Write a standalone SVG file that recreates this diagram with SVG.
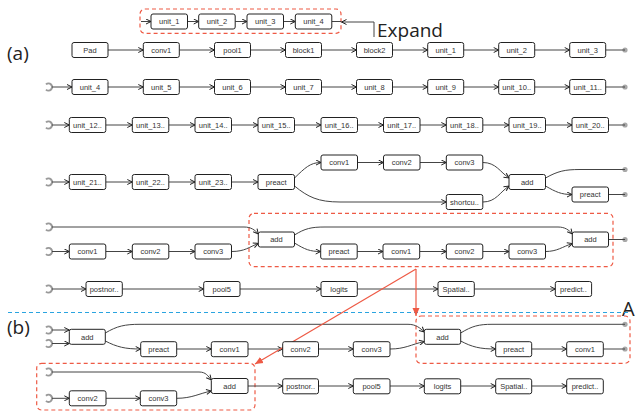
<svg xmlns="http://www.w3.org/2000/svg" xmlns:xlink="http://www.w3.org/1999/xlink" width="636" height="416" viewBox="0 0 636 416">
<style>
.n rect{fill:#fff;stroke:#222;stroke-width:1}
.n text{font-family:"Liberation Sans",Arial,sans-serif;font-size:7.5px;fill:#333;text-anchor:middle}
.e path{fill:none;stroke:#444;stroke-width:1;marker-end:url(#ah)}
.e path.nm{marker-end:none}
.hk{fill:none;stroke:#999;stroke-width:2}
.dot{fill:#a8a8a8}
.dash{fill:none;stroke:#ee5a45;stroke-width:1.2;stroke-dasharray:4,3}
.lbl{font-family:"Open Sans","DejaVu Sans",sans-serif;fill:#222}
.red{fill:none;stroke:#ee5a45;stroke-width:1.2;marker-end:url(#rh)}
</style>
<defs>
<marker id="ah" viewBox="0 0 6 6" refX="5.5" refY="3" markerWidth="6" markerHeight="6" markerUnits="userSpaceOnUse" orient="auto"><path d="M0.5,0.5 L5.5,3 L0.5,5.5" fill="none" stroke="#222" stroke-width="1"/></marker>
<marker id="rh" viewBox="0 0 8 8" refX="8" refY="4" markerWidth="8" markerHeight="8" markerUnits="userSpaceOnUse" orient="auto"><path d="M0,0.5 L8,4 L0,7.5 Z" fill="#ee5a45"/></marker>
<path id="hook" class="hk" d="M-2.5,-2.6 A3.6,3.6 0 1 1 -2.5,2.6"/>
</defs>

<!-- labels -->
<text class="lbl" x="7" y="60" font-size="19">(a)</text>
<text class="lbl" x="7" y="334" font-size="19">(b)</text>
<text class="lbl" x="377" y="37" font-size="19">Expand</text>
<text class="lbl" x="622" y="316" font-size="20">A</text>

<!-- dashed frames -->
<rect class="dash" x="140" y="9" width="201" height="24.3" rx="5"/>
<rect class="dash" x="249" y="213.3" width="364" height="53.4" rx="5"/>
<rect class="dash" x="416" y="316" width="214" height="47.3" rx="5"/>
<rect class="dash" x="36.7" y="363.3" width="218.3" height="46.7" rx="5"/>
<line x1="8" y1="312.5" x2="630" y2="312.5" stroke="#2aa4e0" stroke-width="1.2" stroke-dasharray="4,3"/>

<!-- hooks and end dots -->
<g id="terminals">
<use xlink:href="#hook" x="48.5" y="87"/>
<use xlink:href="#hook" x="48.5" y="125"/>
<use xlink:href="#hook" x="48.5" y="182"/>
<use xlink:href="#hook" x="48.5" y="227"/>
<use xlink:href="#hook" x="48.5" y="251.5"/>
<use xlink:href="#hook" x="48.5" y="289"/>
<use xlink:href="#hook" x="48.5" y="330"/>
<use xlink:href="#hook" x="48.5" y="343.5"/>
<use xlink:href="#hook" x="48.5" y="372"/>
<use xlink:href="#hook" x="48.5" y="398.3"/>
<circle class="dot" cx="625" cy="50" r="2.6"/>
<circle class="dot" cx="625" cy="87" r="2.6"/>
<circle class="dot" cx="625" cy="125" r="2.6"/>
<circle class="dot" cx="625" cy="169.5" r="2.6"/>
<circle class="dot" cx="625" cy="194.5" r="2.6"/>
<circle class="dot" cx="625" cy="239.5" r="2.6"/>
<circle class="dot" cx="625" cy="324.3" r="2.6"/>
<circle class="dot" cx="625" cy="349" r="2.6"/>
</g>

<!-- connectors -->
<g class="e" id="connectors">
<!-- expand row -->
<path d="M141,21.5 H151"/>
<path d="M187.5,21.5 H198.7"/>
<path d="M235.2,21.5 H247"/>
<path d="M283.5,21.5 H295.3"/>
<path class="nm" d="M331.8,21.5 H341"/>
<path d="M374,37 V22 H341.5"/>
<!-- row 1 -->
<path d="M108,50 H143.3"/>
<path d="M179.3,50 H214.5"/>
<path d="M250.5,50 H285.5"/>
<path d="M321.5,50 H356.5"/>
<path d="M392.5,50 H427.7"/>
<path d="M463.7,50 H498.7"/>
<path d="M534.7,50 H569.7"/>
<path class="nm" d="M605.7,50 H625"/>
<!-- row 2 -->
<path d="M52,87 H72"/>
<path d="M108,87 H143.3"/>
<path d="M179.3,87 H214.5"/>
<path d="M250.5,87 H285.5"/>
<path d="M321.5,87 H356.5"/>
<path d="M392.5,87 H427.7"/>
<path d="M463.7,87 H498.7"/>
<path d="M534.7,87 H569.7"/>
<path class="nm" d="M605.7,87 H625"/>
<!-- row 3 -->
<path d="M52,125 H69.3"/>
<path d="M105.8,125 H132.3"/>
<path d="M168.8,125 H195"/>
<path d="M231.5,125 H258"/>
<path d="M294.5,125 H321"/>
<path d="M357.5,125 H383.5"/>
<path d="M420,125 H446.3"/>
<path d="M482.8,125 H509"/>
<path d="M545.5,125 H572"/>
<path class="nm" d="M608.5,125 H625"/>
<!-- row 4 -->
<path d="M52,182 H69.3"/>
<path d="M105.8,182 H132.3"/>
<path d="M168.8,182 H195"/>
<path d="M231.5,182 H258"/>
<path d="M294.5,178 C305,168 310,162.5 321,162.5"/>
<path d="M294.5,186 C308,197 318,202 340,202 H446.3"/>
<path d="M357.5,162.5 H383.5"/>
<path d="M420,162.5 H446.3"/>
<path d="M482.8,162.5 C496,162.5 500,172 509,178"/>
<path d="M482.8,202 C496,202 500,192 509,186"/>
<path class="nm" d="M545.5,178 C558,171 565,169.5 580,169.5 H625"/>
<path d="M545.5,186 C556,192 561,194.5 572,194.5"/>
<path class="nm" d="M608.5,194.5 H625"/>
<!-- row 5 -->
<path d="M52,227 H244 C251,227 255,230 258.3,234"/>
<path d="M52,251.5 H69.3"/>
<path d="M105.8,251.5 H132.3"/>
<path d="M168.8,251.5 H195"/>
<path d="M231.5,251.5 C245,251.5 249,247 258.3,243.5"/>
<path d="M294.5,235 C305,228.5 311,227 325,227 H558 C565,227 569,230 572.3,234"/>
<path d="M294.5,243 C305,249.5 310,251.5 320.7,251.5"/>
<path d="M357.2,251.5 H383"/>
<path d="M419.7,251.5 H446.3"/>
<path d="M482.8,251.5 H509"/>
<path d="M545.5,251.5 C557,251.5 562,247 572.3,243.5"/>
<path class="nm" d="M608.5,239.5 H625"/>
<!-- row 6 -->
<path d="M52,289 H86"/>
<path d="M122.3,289 H203.7"/>
<path d="M240,289 H321"/>
<path d="M357.3,289 H438"/>
<path d="M474.3,289 H555.3"/>
<!-- (b) row 1 -->
<path d="M52,330 H69.3"/>
<path d="M52,343.5 H69.3"/>
<path d="M105.3,333 C117,326 125,324.3 140,324.3 H408 C416,324.3 420,328 424.3,332"/>
<path d="M105.3,341 C117,347 125,349 140.7,349"/>
<path d="M176.7,349 H211.3"/>
<path d="M248,349 H282.7"/>
<path d="M318.5,349 H353.3"/>
<path d="M390,349 C405,349 411,344.5 424.3,341.5"/>
<path class="nm" d="M460.7,333 C472,326 479,324.3 492,324.3 H625"/>
<path d="M460.7,341 C472,347 480,349 495.7,349"/>
<path d="M531.7,349 H566.7"/>
<path class="nm" d="M603.3,349 H625"/>
<!-- (b) row 2 -->
<path d="M52,372 H199 C206,372 208,376 211.3,380"/>
<path d="M52,398.3 H69.3"/>
<path d="M106,398.3 H140.3"/>
<path d="M176.7,398.3 C192,398.3 199,393.5 211.3,391"/>
<path d="M248,386 H282.7"/>
<path d="M318.5,386 H353.3"/>
<path d="M390,386 H424.3"/>
<path d="M460.7,386 H495.7"/>
<path d="M531.7,386 H566.7"/>
</g>

<!-- red mapping arrows -->
<path class="red" d="M416,269 V316"/>
<path class="red" d="M416,269 L255,364"/>

<!-- expand row nodes -->
<g id="e_unit_1" class="n"><rect x="151" y="14" width="36.5" height="15" rx="2"/><text x="169.2" y="24.2">unit_1</text></g>
<g id="e_unit_2" class="n"><rect x="198.7" y="14" width="36.5" height="15" rx="2"/><text x="217" y="24.2">unit_2</text></g>
<g id="e_unit_3" class="n"><rect x="247" y="14" width="36.5" height="15" rx="2"/><text x="265.2" y="24.2">unit_3</text></g>
<g id="e_unit_4" class="n"><rect x="295.3" y="14" width="36.5" height="15" rx="2"/><text x="313.5" y="24.2">unit_4</text></g>

<!-- row 1 -->
<g id="a_pad" class="n"><rect x="72" y="42.5" width="36" height="15" rx="2"/><text x="90" y="52.7">Pad</text></g>
<g id="a_conv1" class="n"><rect x="143.3" y="42.5" width="36" height="15" rx="2"/><text x="161.3" y="52.7">conv1</text></g>
<g id="a_pool1" class="n"><rect x="214.5" y="42.5" width="36" height="15" rx="2"/><text x="232.5" y="52.7">pool1</text></g>
<g id="a_block1" class="n"><rect x="285.5" y="42.5" width="36" height="15" rx="2"/><text x="303.5" y="52.7">block1</text></g>
<g id="a_block2" class="n"><rect x="356.5" y="42.5" width="36" height="15" rx="2"/><text x="374.5" y="52.7">block2</text></g>
<g id="a_unit_1" class="n"><rect x="427.7" y="42.5" width="36" height="15" rx="2"/><text x="445.7" y="52.7">unit_1</text></g>
<g id="a_unit_2" class="n"><rect x="498.7" y="42.5" width="36" height="15" rx="2"/><text x="516.7" y="52.7">unit_2</text></g>
<g id="a_unit_3" class="n"><rect x="569.7" y="42.5" width="36" height="15" rx="2"/><text x="587.7" y="52.7">unit_3</text></g>

<!-- row 2 -->
<g id="a_unit_4" class="n"><rect x="72" y="79.5" width="36" height="15" rx="2"/><text x="90" y="89.7">unit_4</text></g>
<g id="a_unit_5" class="n"><rect x="143.3" y="79.5" width="36" height="15" rx="2"/><text x="161.3" y="89.7">unit_5</text></g>
<g id="a_unit_6" class="n"><rect x="214.5" y="79.5" width="36" height="15" rx="2"/><text x="232.5" y="89.7">unit_6</text></g>
<g id="a_unit_7" class="n"><rect x="285.5" y="79.5" width="36" height="15" rx="2"/><text x="303.5" y="89.7">unit_7</text></g>
<g id="a_unit_8" class="n"><rect x="356.5" y="79.5" width="36" height="15" rx="2"/><text x="374.5" y="89.7">unit_8</text></g>
<g id="a_unit_9" class="n"><rect x="427.7" y="79.5" width="36" height="15" rx="2"/><text x="445.7" y="89.7">unit_9</text></g>
<g id="a_unit_10" class="n"><rect x="498.7" y="79.5" width="36" height="15" rx="2"/><text x="516.7" y="89.7">unit_10..</text></g>
<g id="a_unit_11" class="n"><rect x="569.7" y="79.5" width="36" height="15" rx="2"/><text x="587.7" y="89.7">unit_11..</text></g>

<!-- row 3 -->
<g id="a_unit_12" class="n"><rect x="69.3" y="117.5" width="36.5" height="15" rx="2"/><text x="87.5" y="127.7">unit_12..</text></g>
<g id="a_unit_13" class="n"><rect x="132.3" y="117.5" width="36.5" height="15" rx="2"/><text x="150.5" y="127.7">unit_13..</text></g>
<g id="a_unit_14" class="n"><rect x="195" y="117.5" width="36.5" height="15" rx="2"/><text x="213.2" y="127.7">unit_14..</text></g>
<g id="a_unit_15" class="n"><rect x="258" y="117.5" width="36.5" height="15" rx="2"/><text x="276.2" y="127.7">unit_15..</text></g>
<g id="a_unit_16" class="n"><rect x="321" y="117.5" width="36.5" height="15" rx="2"/><text x="339.2" y="127.7">unit_16..</text></g>
<g id="a_unit_17" class="n"><rect x="383.5" y="117.5" width="36.5" height="15" rx="2"/><text x="401.7" y="127.7">unit_17..</text></g>
<g id="a_unit_18" class="n"><rect x="446.3" y="117.5" width="36.5" height="15" rx="2"/><text x="464.5" y="127.7">unit_18..</text></g>
<g id="a_unit_19" class="n"><rect x="509" y="117.5" width="36.5" height="15" rx="2"/><text x="527.2" y="127.7">unit_19..</text></g>
<g id="a_unit_20" class="n"><rect x="572" y="117.5" width="36.5" height="15" rx="2"/><text x="590.2" y="127.7">unit_20..</text></g>

<!-- row 4 -->
<g id="a_unit_21" class="n"><rect x="69.3" y="174.5" width="36.5" height="15" rx="2"/><text x="87.5" y="184.7">unit_21..</text></g>
<g id="a_unit_22" class="n"><rect x="132.3" y="174.5" width="36.5" height="15" rx="2"/><text x="150.5" y="184.7">unit_22..</text></g>
<g id="a_unit_23" class="n"><rect x="195" y="174.5" width="36.5" height="15" rx="2"/><text x="213.2" y="184.7">unit_23..</text></g>
<g id="a_preact1" class="n"><rect x="258" y="174.5" width="36.5" height="15" rx="2"/><text x="276.2" y="184.7">preact</text></g>
<g id="a_r4_conv1" class="n"><rect x="321" y="155" width="36.5" height="15" rx="2"/><text x="339.2" y="165.2">conv1</text></g>
<g id="a_r4_conv2" class="n"><rect x="383.5" y="155" width="36.5" height="15" rx="2"/><text x="401.7" y="165.2">conv2</text></g>
<g id="a_r4_conv3" class="n"><rect x="446.3" y="155" width="36.5" height="15" rx="2"/><text x="464.5" y="165.2">conv3</text></g>
<g id="a_shortcut" class="n"><rect x="446.3" y="194.5" width="36.5" height="15" rx="2"/><text x="464.5" y="204.7">shortcu..</text></g>
<g id="a_r4_add" class="n"><rect x="509" y="174.5" width="36.5" height="15" rx="2"/><text x="527.2" y="184.7">add</text></g>
<g id="a_r4_preact" class="n"><rect x="572" y="187" width="36.5" height="15" rx="2"/><text x="590.2" y="197.2">preact</text></g>

<!-- row 5 -->
<g id="a_r5_conv1" class="n"><rect x="69.3" y="244" width="36.5" height="15" rx="2"/><text x="87.5" y="254.2">conv1</text></g>
<g id="a_r5_conv2" class="n"><rect x="132.3" y="244" width="36.5" height="15" rx="2"/><text x="150.5" y="254.2">conv2</text></g>
<g id="a_r5_conv3" class="n"><rect x="195" y="244" width="36.5" height="15" rx="2"/><text x="213.2" y="254.2">conv3</text></g>
<g id="a_r5_add1" class="n"><rect x="258.3" y="232" width="36.2" height="15" rx="2"/><text x="276.4" y="242.2">add</text></g>
<g id="a_r5_preact" class="n"><rect x="320.7" y="244" width="36.5" height="15" rx="2"/><text x="339" y="254.2">preact</text></g>
<g id="a_r5_conv1b" class="n"><rect x="383" y="244" width="36.7" height="15" rx="2"/><text x="401.3" y="254.2">conv1</text></g>
<g id="a_r5_conv2b" class="n"><rect x="446.3" y="244" width="36.5" height="15" rx="2"/><text x="464.5" y="254.2">conv2</text></g>
<g id="a_r5_conv3b" class="n"><rect x="509" y="244" width="36.5" height="15" rx="2"/><text x="527.2" y="254.2">conv3</text></g>
<g id="a_r5_add2" class="n"><rect x="572.3" y="232" width="36.2" height="15" rx="2"/><text x="590.4" y="242.2">add</text></g>

<!-- row 6 -->
<g id="a_postnorm" class="n"><rect x="86" y="281.5" width="36.3" height="15" rx="2"/><text x="104.1" y="291.7">postnor..</text></g>
<g id="a_pool5" class="n"><rect x="203.7" y="281.5" width="36.3" height="15" rx="2"/><text x="221.8" y="291.7">pool5</text></g>
<g id="a_logits" class="n"><rect x="321" y="281.5" width="36.3" height="15" rx="2"/><text x="339.1" y="291.7">logits</text></g>
<g id="a_spatial" class="n"><rect x="438" y="281.5" width="36.3" height="15" rx="2"/><text x="456.1" y="291.7">Spatial..</text></g>
<g id="a_predict" class="n"><rect x="555.3" y="281.5" width="36.3" height="15" rx="2"/><text x="573.4" y="291.7">predict..</text></g>

<!-- (b) row 1 -->
<g id="b_add1" class="n"><rect x="69.3" y="329.3" width="36" height="15" rx="2"/><text x="87.3" y="339.5">add</text></g>
<g id="b_preact1" class="n"><rect x="140.7" y="341.7" width="36" height="15" rx="2"/><text x="158.7" y="351.9">preact</text></g>
<g id="b_conv1" class="n"><rect x="211.3" y="341.7" width="36.7" height="15" rx="2"/><text x="229.6" y="351.9">conv1</text></g>
<g id="b_conv2" class="n"><rect x="282.7" y="341.7" width="35.8" height="15" rx="2"/><text x="300.6" y="351.9">conv2</text></g>
<g id="b_conv3" class="n"><rect x="353.3" y="341.7" width="36.7" height="15" rx="2"/><text x="371.6" y="351.9">conv3</text></g>
<g id="b_add2" class="n"><rect x="424.3" y="329.3" width="36.4" height="15" rx="2"/><text x="442.5" y="339.5">add</text></g>
<g id="b_preact2" class="n"><rect x="495.7" y="341.7" width="36" height="15" rx="2"/><text x="513.7" y="351.9">preact</text></g>
<g id="b_conv1b" class="n"><rect x="566.7" y="341.7" width="36.6" height="15" rx="2"/><text x="585" y="351.9">conv1</text></g>

<!-- (b) row 2 -->
<g id="b_conv2b" class="n"><rect x="69.3" y="390.8" width="36.7" height="15" rx="2"/><text x="87.6" y="401">conv2</text></g>
<g id="b_conv3b" class="n"><rect x="140.3" y="390.8" width="36.4" height="15" rx="2"/><text x="158.5" y="401">conv3</text></g>
<g id="b_add3" class="n"><rect x="211.3" y="378.5" width="36.7" height="15" rx="2"/><text x="229.6" y="388.7">add</text></g>
<g id="b_postnorm" class="n"><rect x="282.7" y="378.8" width="35.8" height="15" rx="2"/><text x="300.6" y="389">postnor..</text></g>
<g id="b_pool5" class="n"><rect x="353.3" y="378.8" width="36.7" height="15" rx="2"/><text x="371.6" y="389">pool5</text></g>
<g id="b_logits" class="n"><rect x="424.3" y="378.8" width="36.4" height="15" rx="2"/><text x="442.5" y="389">logits</text></g>
<g id="b_spatial" class="n"><rect x="495.7" y="378.8" width="36" height="15" rx="2"/><text x="513.7" y="389">Spatial..</text></g>
<g id="b_predict" class="n"><rect x="566.7" y="378.8" width="36.6" height="15" rx="2"/><text x="585" y="389">predict..</text></g>
</svg>
